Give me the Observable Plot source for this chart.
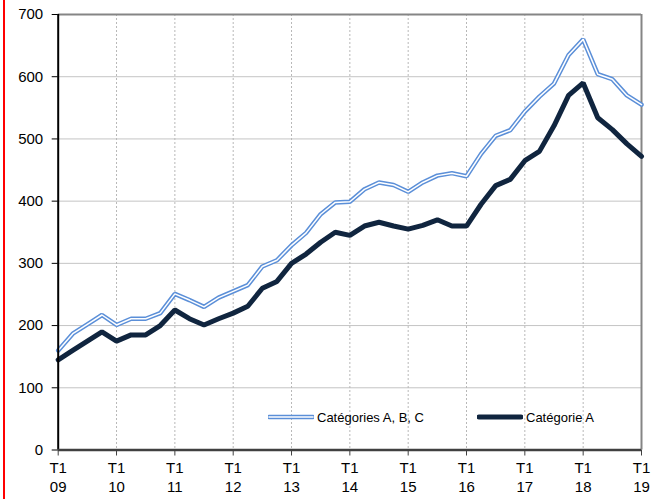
<!DOCTYPE html>
<html>
<head>
<meta charset="utf-8">
<script src="https://cdn.jsdelivr.net/npm/d3@7"></script>
<script src="https://cdn.jsdelivr.net/npm/@observablehq/plot@0.6"></script>
<style>
  html, body { margin: 0; padding: 0; background: #fff; }
  #wrap { position: relative; width: 659px; height: 499px; overflow: hidden; font-family: "Liberation Sans", Arial, sans-serif; }
  #redline { position: absolute; left: 3px; top: 0; width: 2px; height: 499px; background: #ff0000; }
  .leg { position: absolute; top: 408px; height: 18px; display: flex; align-items: center; font-size: 13px; color: #000; white-space: nowrap; }
  .leg svg { display: block; margin-right: 3px; }
</style>
</head>
<body>
<div id="wrap">
  <div id="chart"></div>
  <div id="redline"></div>
  <div class="leg" style="left:268px">
    <svg width="46" height="10"><line x1="1" x2="45" y1="5" y2="5" stroke="#5b8fd8" stroke-width="4.5" stroke-linecap="round"/><line x1="1" x2="45" y1="5" y2="5" stroke="#fff" stroke-width="1.5" stroke-linecap="round"/></svg>
    <span>Catégories A, B, C</span>
  </div>
  <div class="leg" style="left:477px">
    <svg width="46" height="10"><line x1="2" x2="44" y1="5" y2="5" stroke="#10253f" stroke-width="5" stroke-linecap="round"/></svg>
    <span>Catégorie A</span>
  </div>
</div>
<script>
const yearLabels = ["09","10","11","12","13","14","15","16","17","18","19"];
const yTicks = [0,100,200,300,400,500,600,700];
// Quarterly values, T1 2009 .. T1 2019
const catABC = [160,187,202,217,201,211,211,220,251,241,230,245,255,265,295,305,329,349,379,398,399,419,430,426,415,430,441,445,440,476,505,514,544,568,589,635,660,604,596,570,555];
const catA   = [145,160,175,190,175,185,185,200,225,211,201,211,220,231,260,271,300,315,334,350,345,360,366,360,355,361,370,360,360,395,425,435,465,480,521,570,590,534,515,492,472];

const idx = (d, i) => i;
const xTicks = yearLabels.map((_, k) => k * 4);

const chart = Plot.plot({
  width: 659,
  height: 499,
  marginLeft: 57.7,
  marginRight: 18,
  marginTop: 14,
  marginBottom: 49.5,
  style: { fontFamily: '"Liberation Sans", Arial, sans-serif', fontSize: "15px", color: "#000", background: "#fff", overflow: "visible" },
  x: { type: "linear", domain: [0, 40] },
  y: { domain: [0, 700] },
  marks: [
    Plot.ruleY(yTicks.filter(v => v > 0 && v < 700), { stroke: "#c4c4c4", strokeWidth: 1 }),
    Plot.ruleX(xTicks.filter(v => v > 0 && v < 40), { stroke: "#b8b8b8", strokeWidth: 1, strokeDasharray: "2,2" }),
    Plot.ruleY([700], { stroke: "#858585", strokeWidth: 2 }),
    Plot.ruleX([40], { stroke: "#858585", strokeWidth: 2 }),
    Plot.line(catABC, { x: idx, y: d => d, stroke: "#5b8fd8", strokeWidth: 4.5, strokeLinejoin: "miter" }),
    Plot.line(catABC, { x: idx, y: d => d, stroke: "#ffffff", strokeWidth: 1.5, strokeLinejoin: "miter" }),
    Plot.line(catA, { x: idx, y: d => d, stroke: "#10253f", strokeWidth: 5, strokeLinejoin: "miter" }),
    Plot.ruleX([0], { stroke: "#000", strokeWidth: 2 }),
    Plot.ruleY([0], { stroke: "#404040", strokeWidth: 2.5 }),
    Plot.axisY({ ticks: yTicks, tickSize: 6, tickPadding: 9, tickFormat: d => String(d), stroke: "#000", fill: "#000", fontSize: 15 }),
    Plot.axisX({ ticks: xTicks, tickSize: 6, tickPadding: 3, lineHeight: 1.3, tickFormat: v => "T1\n" + yearLabels[v / 4], stroke: "#404040", fill: "#000", fontSize: 15 })
  ]
});
document.getElementById("chart").appendChild(chart);
</script>
</body>
</html>
